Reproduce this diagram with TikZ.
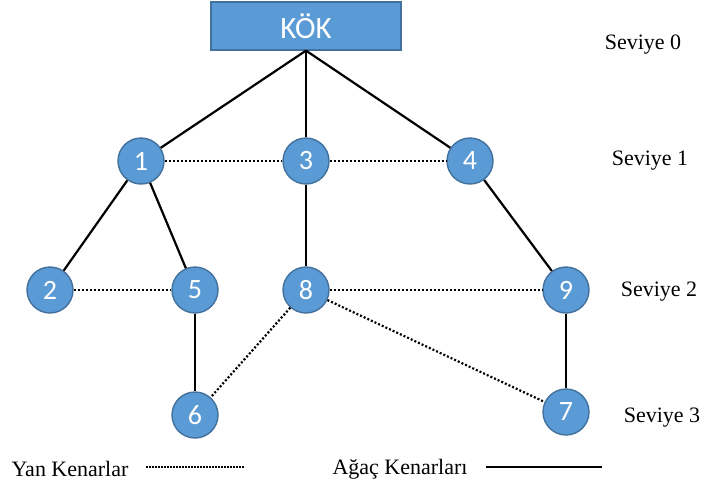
\documentclass[tikz,border=0pt]{standalone}
\usepackage{fontspec}
\setmainfont{Liberation Serif}
\newfontfamily\cfont{Carlito}
\usetikzlibrary{positioning}
\definecolor{bfsFill}{HTML}{5B9BD5}
\definecolor{bfsLine}{HTML}{41719C}
\tikzset{
  kok/.style={draw=bfsLine, fill=bfsFill, line width=1.2pt, minimum width=190pt, minimum height=48pt, inner sep=0pt, text=white, font=\cfont\fontsize{31}{32}\selectfont},
  vtx/.style={circle, draw=bfsLine, fill=bfsFill, line width=1.4pt, minimum size=46pt, inner sep=0pt, text=white, font=\cfont\fontsize{28}{29}\selectfont},
  agac/.style={line width=2.2pt, draw=black},
  yan/.style={line width=2.2pt, draw=black, dash pattern=on 2pt off 2pt},
  lvl/.style={font=\fontsize{22}{24}\selectfont, inner sep=0pt},
}
\begin{document}
\begin{tikzpicture}[x=1pt,y=-1pt]
        \useasboundingbox (0,0) rectangle (704,488);
        % root and vertices
        \node[kok] (kok) at (306,26) {KÖK};
        \foreach \n/\x/\y in {1/141/161, 3/306/161, 4/470/161, 2/50/290, 5/195/290, 8/306/290, 9/566/290, 6/195/415, 7/566/412} {
            \node[vtx] (n\n) at (\x,\y) {\n};
        }
        % tree edges
        \foreach \a/\b in {kok.south/n1, kok.south/n3, kok.south/n4, n1/n2, n1/n5, n3/n8, n4/n9, n5/n6, n9/n7} {
            \draw[agac] (\a) -- (\b);
        }
        % side edges
        \foreach \a/\b in {n1/n3, n3/n4, n2/n5, n8/n9, n8/n6, n8/n7} {
            \draw[yan] (\a) -- (\b);
        }
        % levels
        \foreach \i/\x/\y in {0/643/45, 1/650/161, 2/659/292, 3/662/418} {
            \node[lvl] (sev\i) at (\x,\y) {Seviye \i};
        }
        % legend
        \node[lvl] (yan) at (70,469) {Yan Kenarlar};
        \coordinate (yanA) at (146,467);
        \coordinate (yanB) at (245,467);
        \draw[yan, line width=1.5pt, dash pattern=on 1.5pt off 1.5pt] (yanA) -- (yanB);
        \node[lvl] (agc) at (400,469) {Ağaç Kenarları};
        \coordinate (agcA) at (486,467);
        \coordinate (agcB) at (602,467);
        \draw[agac] (agcA) -- (agcB);
    \end{tikzpicture}
\end{document}
